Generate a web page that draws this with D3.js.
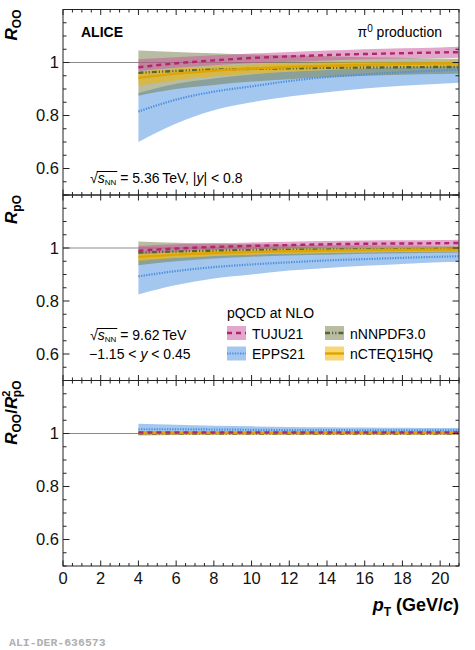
<!DOCTYPE html>
<html>
<head>
<meta charset="utf-8">
<script src="https://cdn.jsdelivr.net/npm/d3@7"></script>
<style>
  body { margin: 0; background: #fff; }
  svg { display: block; font-family: "Liberation Sans", Arial, Helvetica, sans-serif; }
</style>
</head>
<body>
<svg id="chart" width="475" height="650"></svg>
<script>
// pT grid (GeV/c) used by all model curves
var ptValues = [4, 6, 8, 10, 12, 14, 16, 18, 20, 21];

// ---- R_OO ----
var ooTujuMid  = [0.982, 0.997, 1.008, 1.017, 1.023, 1.028, 1.032, 1.035, 1.038, 1.039];
var ooTujuLo   = [0.968, 0.980, 0.990, 0.997, 1.003, 1.008, 1.012, 1.015, 1.017, 1.018];
var ooTujuHi   = [1.012, 1.020, 1.027, 1.034, 1.040, 1.045, 1.050, 1.054, 1.057, 1.059];
var ooEppsMid  = [0.815, 0.860, 0.890, 0.910, 0.930, 0.945, 0.955, 0.963, 0.970, 0.973];
var ooEppsLo   = [0.700, 0.770, 0.820, 0.850, 0.872, 0.888, 0.902, 0.912, 0.920, 0.924];
var ooEppsHi   = [0.885, 0.920, 0.940, 0.955, 0.965, 0.972, 0.978, 0.982, 0.985, 0.987];
var ooNnpdfMid = [0.961, 0.968, 0.973, 0.976, 0.978, 0.980, 0.981, 0.982, 0.983, 0.983];
var ooNnpdfLo  = [0.875, 0.900, 0.915, 0.928, 0.937, 0.944, 0.950, 0.954, 0.957, 0.958];
var ooNnpdfHi  = [1.045, 1.040, 1.035, 1.030, 1.027, 1.024, 1.020, 1.018, 1.015, 1.014];
var ooCteqMid  = [0.942, 0.958, 0.969, 0.977, 0.983, 0.988, 0.991, 0.994, 0.996, 0.997];
var ooCteqLo   = [0.912, 0.933, 0.948, 0.958, 0.966, 0.972, 0.977, 0.981, 0.984, 0.985];
var ooCteqHi   = [0.965, 0.978, 0.986, 0.992, 0.997, 1.000, 1.003, 1.005, 1.007, 1.008];

// ---- R_pO ----
var poTujuMid  = [0.990, 0.998, 1.004, 1.008, 1.011, 1.014, 1.016, 1.017, 1.018, 1.019];
var poTujuLo   = [0.976, 0.985, 0.992, 0.996, 0.999, 1.002, 1.004, 1.005, 1.006, 1.007];
var poTujuHi   = [1.008, 1.014, 1.018, 1.021, 1.024, 1.026, 1.028, 1.029, 1.030, 1.031];
var poEppsMid  = [0.893, 0.913, 0.928, 0.938, 0.946, 0.953, 0.958, 0.963, 0.967, 0.969];
var poEppsLo   = [0.825, 0.860, 0.885, 0.900, 0.915, 0.925, 0.933, 0.940, 0.946, 0.948];
var poEppsHi   = [0.955, 0.963, 0.970, 0.975, 0.978, 0.981, 0.983, 0.985, 0.986, 0.987];
var poNnpdfMid = [0.983, 0.987, 0.990, 0.992, 0.993, 0.994, 0.995, 0.995, 0.996, 0.996];
var poNnpdfLo  = [0.935, 0.950, 0.960, 0.967, 0.972, 0.975, 0.978, 0.980, 0.982, 0.983];
var poNnpdfHi  = [1.025, 1.020, 1.017, 1.014, 1.012, 1.011, 1.010, 1.009, 1.008, 1.008];
var poCteqMid  = [0.966, 0.975, 0.981, 0.985, 0.988, 0.990, 0.992, 0.993, 0.994, 0.995];
var poCteqLo   = [0.950, 0.962, 0.970, 0.975, 0.979, 0.982, 0.984, 0.986, 0.987, 0.988];
var poCteqHi   = [0.982, 0.988, 0.992, 0.995, 0.997, 0.998, 0.999, 1.000, 1.001, 1.002];

// ---- R_OO / R_pO^2 ----
var rTujuMid  = [1.004, 1.004, 1.004, 1.004, 1.004, 1.004, 1.004, 1.004, 1.004, 1.004];
var rTujuLo   = [1.000, 1.000, 1.000, 1.000, 1.000, 1.000, 1.000, 1.000, 1.000, 1.000];
var rTujuHi   = [1.008, 1.008, 1.008, 1.008, 1.008, 1.008, 1.008, 1.008, 1.008, 1.008];
var rEppsMid  = [1.016, 1.016, 1.015, 1.014, 1.013, 1.013, 1.012, 1.012, 1.012, 1.012];
var rEppsLo   = [1.006, 1.006, 1.006, 1.006, 1.005, 1.005, 1.005, 1.005, 1.005, 1.005];
var rEppsHi   = [1.037, 1.033, 1.029, 1.027, 1.025, 1.024, 1.023, 1.022, 1.021, 1.021];
var rNnpdfMid = [1.000, 1.000, 1.000, 1.000, 1.000, 1.000, 1.000, 1.000, 1.000, 1.000];
var rNnpdfLo  = [0.992, 0.994, 0.995, 0.995, 0.995, 0.995, 0.995, 0.995, 0.995, 0.995];
var rNnpdfHi  = [1.008, 1.007, 1.006, 1.006, 1.006, 1.006, 1.006, 1.006, 1.006, 1.006];
var rCteqMid  = [1.002, 1.002, 1.002, 1.002, 1.002, 1.002, 1.002, 1.002, 1.002, 1.002];
var rCteqLo   = [0.998, 0.998, 0.998, 0.998, 0.998, 0.998, 0.998, 0.998, 0.998, 0.998];
var rCteqHi   = [1.006, 1.006, 1.006, 1.006, 1.006, 1.006, 1.006, 1.006, 1.006, 1.006];

var xTicks = [0, 2, 4, 6, 8, 10, 12, 14, 16, 18, 20];
var yTicks = [0.6, 0.8, 1];
var modelNames = ['TUJU21', 'EPPS21', 'nNNPDF3.0', 'nCTEQ15HQ'];

(function () {
  'use strict';

  var svg = d3.select('#chart');
  var left = 63, right = 459, panelH = 185.5;
  var panelTops = [9.5, 195, 380.5];

  var x = d3.scaleLinear().domain([0, 21]).range([left, right]);

  // draw order: blue, olive, yellow, pink
  var styles = {
    'EPPS21':    { band: '#4a90e2', op: 0.5,  line: '#4a8fdc', width: 2.2, dash: '1.3,1.3' },
    'nNNPDF3.0': { band: '#6f7a45', op: 0.5,  line: '#566431', width: 2.4, dash: '5,2,1.2,2,1.2,2' },
    'nCTEQ15HQ': { band: '#f0b400', op: 0.55, line: '#e0a400', width: 2.4, dash: null },
    'TUJU21':    { band: '#c8509a', op: 0.5,  line: '#b5246e', width: 2.4, dash: '5,4' }
  };
  var drawOrder = ['EPPS21', 'nNNPDF3.0', 'nCTEQ15HQ', 'TUJU21'];

  var panels = [
    { 'TUJU21': [ooTujuLo, ooTujuMid, ooTujuHi], 'EPPS21': [ooEppsLo, ooEppsMid, ooEppsHi],
      'nNNPDF3.0': [ooNnpdfLo, ooNnpdfMid, ooNnpdfHi], 'nCTEQ15HQ': [ooCteqLo, ooCteqMid, ooCteqHi] },
    { 'TUJU21': [poTujuLo, poTujuMid, poTujuHi], 'EPPS21': [poEppsLo, poEppsMid, poEppsHi],
      'nNNPDF3.0': [poNnpdfLo, poNnpdfMid, poNnpdfHi], 'nCTEQ15HQ': [poCteqLo, poCteqMid, poCteqHi] },
    { 'TUJU21': [rTujuLo, rTujuMid, rTujuHi], 'EPPS21': [rEppsLo, rEppsMid, rEppsHi],
      'nNNPDF3.0': [rNnpdfLo, rNnpdfMid, rNnpdfHi], 'nCTEQ15HQ': [rCteqLo, rCteqMid, rCteqHi] }
  ];

  panels.forEach(function (pd, p) {
    var top = panelTops[p];
    var y = d3.scaleLinear().domain([0.5, 1.2]).range([top + panelH, top]);
    var g = svg.append('g');

    // reference line at unity
    g.append('line')
      .attr('x1', x(0)).attr('x2', x(21))
      .attr('y1', y(1)).attr('y2', y(1))
      .attr('stroke', '#8a8a8a').attr('stroke-width', 1);

    drawOrder.forEach(function (name) {
      var s = styles[name], d = pd[name];
      var area = d3.area()
        .x(function (v, i) { return x(ptValues[i]); })
        .y0(function (v, i) { return y(d[0][i]); })
        .y1(function (v, i) { return y(d[2][i]); })
        .curve(d3.curveMonotoneX);
      g.append('path').attr('d', area(ptValues))
        .attr('fill', s.band).attr('fill-opacity', s.op);
    });

    drawOrder.forEach(function (name) {
      var s = styles[name], d = pd[name];
      var line = d3.line()
        .x(function (v, i) { return x(ptValues[i]); })
        .y(function (v, i) { return y(d[1][i]); })
        .curve(d3.curveMonotoneX);
      g.append('path').attr('d', line(ptValues))
        .attr('fill', 'none').attr('stroke', s.line)
        .attr('stroke-width', s.width)
        .attr('stroke-dasharray', s.dash);
    });

    // frame
    g.append('rect')
      .attr('x', left).attr('y', top)
      .attr('width', right - left).attr('height', panelH)
      .attr('fill', 'none').attr('stroke', '#222').attr('stroke-width', 1);

    // x ticks (top and bottom, inside)
    d3.range(0, 21.01, 0.5).forEach(function (t) {
      var major = Math.abs(t % 2) < 1e-6;
      var len = major ? 5.5 : 3;
      g.append('line').attr('x1', x(t)).attr('x2', x(t))
        .attr('y1', top + panelH).attr('y2', top + panelH - len)
        .attr('stroke', '#222');
      g.append('line').attr('x1', x(t)).attr('x2', x(t))
        .attr('y1', top).attr('y2', top + len)
        .attr('stroke', '#222');
    });

    // y ticks (left and right, inside)
    d3.range(0.5, 1.2001, 0.05).forEach(function (t) {
      var major = Math.abs(Math.round(t * 10) / 10 - t) < 1e-6 && Math.round(t * 10) % 2 === 0;
      var len = major ? 6.5 : 3.5;
      g.append('line').attr('x1', left).attr('x2', left + len)
        .attr('y1', y(t)).attr('y2', y(t)).attr('stroke', '#222');
      g.append('line').attr('x1', right).attr('x2', right - len)
        .attr('y1', y(t)).attr('y2', y(t)).attr('stroke', '#222');
    });

    g.selectAll('text.ytick').data(yTicks).enter().append('text')
      .attr('x', 59).attr('y', function (t) { return y(t); })
      .attr('dy', '0.36em').attr('text-anchor', 'end')
      .attr('font-size', 16.5).attr('fill', '#111')
      .text(function (t) { return t === 1 ? '1' : t; });
  });

  // x tick labels
  svg.selectAll('text.xtick').data(xTicks).enter().append('text')
    .attr('x', function (t) { return x(t); }).attr('y', 584)
    .attr('text-anchor', 'middle').attr('font-size', 16.5).attr('fill', '#111')
    .text(function (t) { return t; });

  // x axis title
  var xt = svg.append('text').attr('x', right).attr('y', 611)
    .attr('text-anchor', 'end').attr('font-size', 18).attr('font-weight', 'bold');
  xt.append('tspan').attr('font-style', 'italic').text('p');
  xt.append('tspan').attr('font-size', 12).attr('dy', 5).text('T');
  xt.append('tspan').attr('dy', -5).text(' (GeV/');
  xt.append('tspan').attr('font-style', 'italic').text('c');
  xt.append('tspan').text(')');

  // y axis titles (rotated)
  function yTitle(py) {
    return svg.append('text')
      .attr('transform', 'translate(17,' + py + ') rotate(-90)')
      .attr('text-anchor', 'end').attr('font-size', 17).attr('font-weight', 'bold');
  }
  var t1 = yTitle(9.5);
  t1.append('tspan').attr('font-style', 'italic').text('R');
  t1.append('tspan').attr('font-size', 12).attr('dy', 4).text('OO');

  var t2 = yTitle(195);
  t2.append('tspan').attr('font-style', 'italic').text('R');
  t2.append('tspan').attr('font-size', 12).attr('dy', 4).text('pO');

  var t3 = yTitle(380.5);
  t3.append('tspan').attr('font-style', 'italic').text('R');
  t3.append('tspan').attr('font-size', 12).attr('dy', 4).text('OO');
  t3.append('tspan').attr('dy', -4).text('/');
  t3.append('tspan').attr('font-style', 'italic').text('R');
  t3.append('tspan').attr('font-size', 11).attr('dy', -7).text('2');
  t3.append('tspan').attr('font-size', 12).attr('dx', -6.5).attr('dy', 11).text('pO');

  // texts
  svg.append('text').attr('x', 81).attr('y', 36.5)
    .attr('font-size', 14).attr('font-weight', 'bold').text('ALICE');

  var pi = svg.append('text').attr('x', 442).attr('y', 37)
    .attr('text-anchor', 'end').attr('font-size', 14);
  pi.append('tspan').text('\u03c0');
  pi.append('tspan').attr('font-size', 10).attr('dy', -5).text('0');
  pi.append('tspan').attr('dy', 5).text(' production');

  function sqrtS(px, py, rest) {
    var t = svg.append('text').attr('x', px).attr('y', py).attr('font-size', 14);
    t.append('tspan').text('\u221a');
    t.append('tspan').attr('font-style', 'italic').text('s');
    t.append('tspan').attr('font-size', 8).attr('dy', 2).text('NN');
    t.append('tspan').attr('dy', -2).text(rest);
    var node = t.node();
    var a = node.getSubStringLength(0, 1);
    var b = node.getSubStringLength(0, 4);
    svg.append('line')
      .attr('x1', px + a - 1).attr('x2', px + b + 1)
      .attr('y1', py - 11.5).attr('y2', py - 11.5)
      .attr('stroke', '#000').attr('stroke-width', 1);
    return t;
  }

  var s1 = sqrtS(90, 183, ' = 5.36\u2009TeV,  |');
  s1.append('tspan').attr('font-style', 'italic').text('y');
  s1.append('tspan').text('| < 0.8');

  sqrtS(90, 340, ' = 9.62\u2009TeV');
  var yr = svg.append('text').attr('x', 89).attr('y', 359).attr('font-size', 14);
  yr.append('tspan').text('\u22121.15 < ');
  yr.append('tspan').attr('font-style', 'italic').text('y');
  yr.append('tspan').text(' < 0.45');

  // legend
  svg.append('text').attr('x', 227).attr('y', 317.5).attr('font-size', 14).text('pQCD at NLO');
  var legPos = [[227, 333], [227, 353.5], [325, 333], [325, 353.5]];
  modelNames.forEach(function (name, i) {
    var s = styles[name], p = legPos[i];
    svg.append('rect').attr('x', p[0]).attr('y', p[1] - 7)
      .attr('width', 19).attr('height', 14)
      .attr('fill', s.band).attr('fill-opacity', s.op);
    svg.append('line').attr('x1', p[0]).attr('x2', p[0] + 19)
      .attr('y1', p[1]).attr('y2', p[1])
      .attr('stroke', s.line).attr('stroke-width', s.width)
      .attr('stroke-dasharray', s.dash);
    svg.append('text').attr('x', p[0] + 25).attr('y', p[1] + 5.5)
      .attr('font-size', 14).text(name);
  });

  svg.append('text').attr('x', 9).attr('y', 646)
    .attr('font-family', '"Liberation Mono", "DejaVu Sans Mono", monospace')
    .attr('font-size', 11.5).attr('font-weight', 'bold').attr('fill', '#b0b0b0')
    .text('ALI-DER-636573');
}());
</script>
</body>
</html>
